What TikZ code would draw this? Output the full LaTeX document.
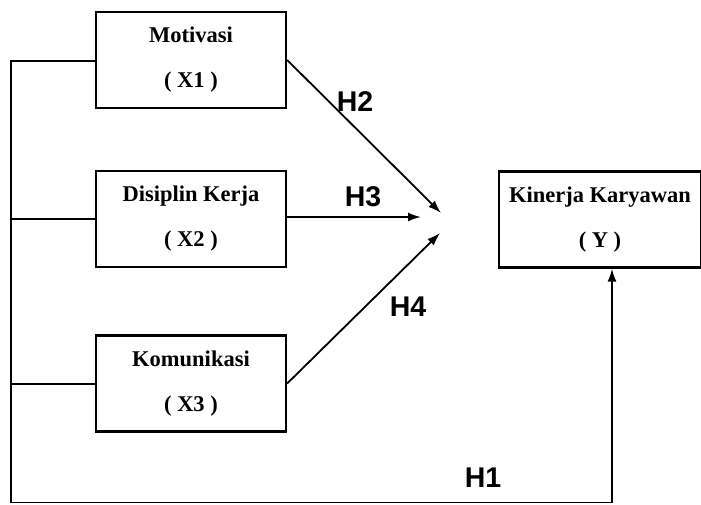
\documentclass[tikz,border=0pt]{standalone}
\usepackage{fontspec}
\setmainfont{Liberation Serif}
\newfontfamily\hfont{Liberation Sans}
\usetikzlibrary{arrows.meta}
\begin{document}
\begin{tikzpicture}[x=1pt,y=-1pt,
  boxnode/.style={draw,line width=2.3pt,minimum width=190pt,minimum height=96pt,inner sep=0pt,
    align=center,font=\fontsize{22.5}{45}\selectfont\bfseries},
  conn/.style={line width=2pt},
  arr/.style={line width=1.8pt,-{Latex[length=13pt,width=9pt]}},
  hlab/.style={font=\hfont\fontsize{28.5}{30}\selectfont\bfseries,inner sep=0pt}]
\useasboundingbox (0,0) rectangle (701,504);
\node[boxnode] (x1) at (191,60) {Motivasi\\( X1 )};
\node[boxnode] (x2) at (191,219) {Disiplin Kerja\\( X2 )};
\node[boxnode] (x3) at (191,383.5) {Komunikasi\\( X3 )};
\node[boxnode,minimum width=202pt] (y) at (600,219.5) {Kinerja Karyawan\\( Y )};
\coordinate (lt) at (10.5,61);
\coordinate (lb) at (10.5,502.5);
\coordinate (e2) at (441,213);
\coordinate (e3) at (421,217);
\coordinate (e4) at (440,233);
\draw[conn] (x1.west |- lt) -- (lt) -- (lb);
\draw[conn] (x2.west) -- (x2.west -| lb);
\draw[conn] (x3.west) -- (x3.west -| lb);
\draw[arr] (lb) -- (lb -| 612,0) -- (612,0 |- y.south);
\draw[arr] (x1.east) -- (e2);
\draw[arr] (x2.east |- e3) -- (e3);
\draw[arr] (x3.east) -- (e4);
\node[hlab] (h2) at (355,102) {H2};
\node[hlab] (h3) at (363,197) {H3};
\node[hlab] (h4) at (408,307) {H4};
\node[hlab] (h1) at (483,478) {H1};
\end{tikzpicture}
\end{document}
